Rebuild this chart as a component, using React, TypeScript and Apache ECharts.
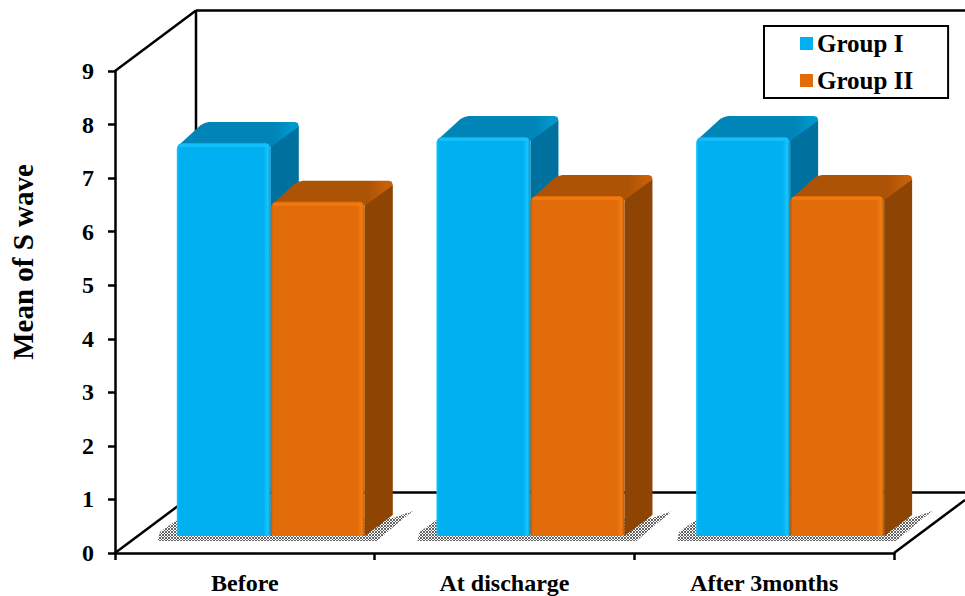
import React, { useEffect, useRef } from "react";
import * as echarts from "echarts";

const categories = ["Before", "At discharge", "After 3months"];
const groupI = [7.34, 7.45, 7.45];
const groupII = [6.24, 6.35, 6.35];
const yTicks = { min: 0, max: 9, interval: 1 };
const seriesNames = ["Group I", "Group II"];
const yName = "Mean of S wave";

const FONT = "'Liberation Serif', 'Times New Roman', serif";
const palette = [
  { front: "#00B0F0", edge: "#1AC4FF", dark: "#0090C8", top: "#0085B8", topEdge: "#0098CC", side: "#00719E" },
  { front: "#E36C0A", edge: "#F27D12", dark: "#B85608", top: "#AD5306", topEdge: "#C86008", side: "#8E4503" },
];

const dots =
  "data:image/svg+xml;utf8," +
  encodeURIComponent(
    "<svg xmlns='http://www.w3.org/2000/svg' width='3' height='3'><rect width='3' height='3' fill='#ffffff'/><rect width='2' height='2' fill='#666666'/><rect x='2' y='2' width='1' height='1' fill='#555555'/></svg>"
  );

// 3D projection of the chart's box and of the bars inside it
const WALL_DX = 81;
const WALL_DY = -60.5;
const BAR_SHIFT_X = 0.1;
const BAR_SHIFT_Y = -17;
const BAR_WIDTH = 0.362;
const DEPTH_DX = 28;
const DEPTH_DY = -21;

const hGrad = (stops: [number, string][]) => ({
  type: "linear",
  x: 0,
  y: 0,
  x2: 1,
  y2: 0,
  colorStops: stops.map(([offset, color]) => ({ offset, color })),
});

const barRender = (groupIndex: number) => (_: any, api: any) => {
  const c = palette[groupIndex];
  const [cx, yTop] = api.coord([api.value(0), api.value(1)]);
  const [, y0] = api.coord([api.value(0), 0]);
  const band = api.size([1, 0])[0];
  const w = band * BAR_WIDTH;
  const mid = cx + band * BAR_SHIFT_X;
  const x0 = groupIndex === 0 ? mid - w : mid;
  const x1 = x0 + w;
  const top = yTop + BAR_SHIFT_Y;
  const bot = y0 + BAR_SHIFT_Y;
  const topFace = [
    [x0 + 1, top + 3],
    [x0 + DEPTH_DX - 4, top + DEPTH_DY + 3],
    [x0 + DEPTH_DX, top + DEPTH_DY + 1],
    [x0 + DEPTH_DX + 4, top + DEPTH_DY],
    [x1 + DEPTH_DX - 4, top + DEPTH_DY],
    [x1 + DEPTH_DX - 1, top + DEPTH_DY + 1],
    [x1 + DEPTH_DX, top + DEPTH_DY + 4],
    [x1 + DEPTH_DX - 2, top + DEPTH_DY + 6],
    [x1, top + 4],
  ];
  const sideFace = [
    [x1, top + 2],
    [x1 + DEPTH_DX, top + DEPTH_DY + 4],
    [x1 + DEPTH_DX, bot + DEPTH_DY],
    [x1, bot],
  ];
  return {
    type: "group",
    children: [
      { type: "polygon", shape: { points: sideFace }, style: { fill: c.side } },
      {
        type: "polygon",
        shape: { points: topFace },
        style: {
          fill: hGrad([
            [0, c.top],
            [0.8, c.top],
            [0.95, c.topEdge],
            [1, c.topEdge],
          ]),
        },
      },
      {
        type: "rect",
        shape: { x: x0, y: top, width: w, height: bot - top, r: [6, 6, 3, 3] },
        style: {
          fill: hGrad([
            [0, groupIndex === 0 ? c.edge : c.dark],
            [0.025, c.front],
            [0.92, c.front],
            [0.97, c.edge],
            [1, c.dark],
          ]),
        },
      },
      {
        type: "rect",
        shape: { x: x0 + 2, y: top + 1, width: w - 6, height: 3, r: 1.5 },
        style: { fill: c.edge, opacity: 0.75 },
      },
    ],
  };
};

const shadowRender = (_: any, api: any) => {
  const [cx] = api.coord([api.value(0), 0]);
  const [, y0] = api.coord([api.value(0), 0]);
  const band = api.size([1, 0])[0];
  const w = band * BAR_WIDTH;
  const mid = cx + band * BAR_SHIFT_X;
  const base = y0 + BAR_SHIFT_Y;
  const pts = [
    [mid - w - 19, base + 5],
    [mid - w - 17, base - 4],
    [mid - w, base - 16],
    [mid + w + DEPTH_DX, base + DEPTH_DY + 3],
    [mid + w + DEPTH_DX + 20, base + DEPTH_DY - 4],
    [mid + w + DEPTH_DX + 4, base - 12],
    [mid + w + 12, base + 5],
  ];
  return {
    type: "polygon",
    shape: { points: pts },
    style: { fill: { image: dots, repeat: "repeat" } },
  };
};

const frameRender = (params: any, api: any) => {
  if (params.dataIndex !== 0) return null;
  const s = params.coordSys;
  const r = s.x + s.width;
  const b = s.y + s.height;
  const style = { stroke: "#000", lineWidth: 2.5, fill: "none" };
  const line = (x1: number, y1: number, x2: number, y2: number) => ({
    type: "line",
    shape: { x1, y1, x2, y2 },
    style,
  });
  const W = api.getWidth();
  const rightDx = W - r;
  return {
    type: "group",
    children: [
      line(s.x, s.y, s.x + WALL_DX, s.y + WALL_DY),
      line(s.x, b, s.x + WALL_DX, b + WALL_DY),
      line(s.x + WALL_DX, s.y + WALL_DY, s.x + WALL_DX, b + WALL_DY),
      line(s.x + WALL_DX, s.y + WALL_DY, W, s.y + WALL_DY),
      line(s.x + WALL_DX, b + WALL_DY, W, b + WALL_DY),
      line(r, b, W, b + (rightDx * WALL_DY) / WALL_DX),
    ],
  };
};

export default function App() {
  const ref = useRef<HTMLDivElement>(null);
  useEffect(() => {
    const chart = echarts.init(ref.current!, undefined, { renderer: "svg" });
    const catData = categories.map((_, i) => [i, 0]);
    chart.setOption({
      animation: false,
      backgroundColor: "#fff",
      grid: { left: 115, top: 71, width: 779, height: 482, outerBoundsMode: "none" },
      legend: {
        orient: "vertical",
        left: 764,
        top: 26,
        padding: [5, 35, 5, 36],
        itemGap: 12,
        itemWidth: 13,
        itemHeight: 13,
        icon: "rect",
        borderColor: "#000",
        borderWidth: 2,
        backgroundColor: "#fff",
        data: seriesNames,
        textStyle: { fontFamily: FONT, fontWeight: "bold", fontSize: 25, color: "#000", padding: [0, 0, 0, -1] },
      },
      xAxis: {
        type: "category",
        data: categories,
        axisLine: { lineStyle: { color: "#000", width: 2.5 } },
        axisTick: { show: true, length: 7, lineStyle: { color: "#000", width: 2.5 } },
        axisLabel: { fontFamily: FONT, fontWeight: "bold", fontSize: 24, color: "#000", margin: 18 },
        splitLine: { show: false },
      },
      yAxis: {
        type: "value",
        min: yTicks.min,
        max: yTicks.max,
        interval: yTicks.interval,
        name: yName,
        nameLocation: "middle",
        nameGap: 78,
        nameTextStyle: { fontFamily: FONT, fontWeight: "bold", fontSize: 29, color: "#000", padding: [0, 0, 0, 100] },
        axisLine: { show: true, lineStyle: { color: "#000", width: 2.5 } },
        axisTick: { show: true, length: 7, lineStyle: { color: "#000", width: 2.5 } },
        axisLabel: { fontFamily: FONT, fontWeight: "bold", fontSize: 24, color: "#000", margin: 21 },
        splitLine: { show: false },
      },
      series: [
        { type: "custom", name: "frame", renderItem: frameRender, data: catData, silent: true, z: 1 },
        { type: "custom", name: "shadow", renderItem: shadowRender, data: catData, silent: true, z: 2 },
        {
          type: "custom",
          name: seriesNames[0],
          renderItem: barRender(0),
          data: groupI.map((v, i) => [i, v]),
          encode: { x: 0, y: 1 },
          itemStyle: { color: palette[0].front },
          z: 3,
        },
        {
          type: "custom",
          name: seriesNames[1],
          renderItem: barRender(1),
          data: groupII.map((v, i) => [i, v]),
          encode: { x: 0, y: 1 },
          itemStyle: { color: palette[1].front },
          z: 4,
        },
      ],
    });
    return () => chart.dispose();
  }, []);
  return <div ref={ref} style={{ position: "fixed", left: 0, top: 0, width: 965, height: 596 }} />;
}
